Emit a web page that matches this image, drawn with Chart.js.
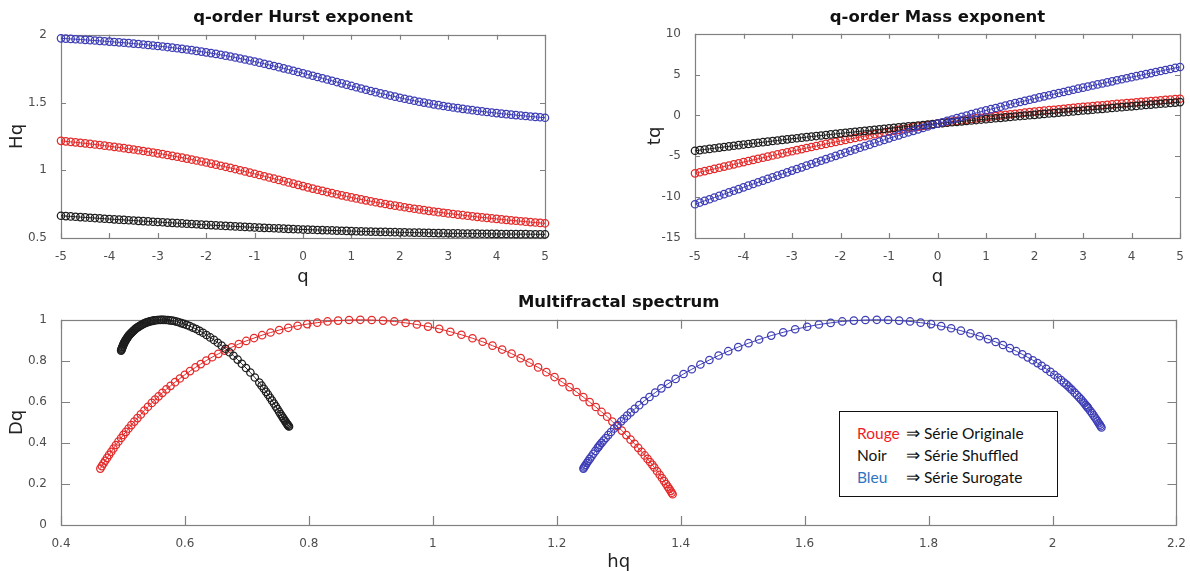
<!DOCTYPE html>
<html lang="fr">
<head>
<meta charset="utf-8">
<title>Spectre multifractal</title>
<script src="https://cdn.jsdelivr.net/npm/chart.js@4.4.1/dist/chart.umd.min.js"></script>
<style>
    html, body { margin: 0; padding: 0; background: #fff; width: 1190px; height: 571px; overflow: hidden; }
    canvas { position: absolute; }
    #cHurst { left: 0; top: 0; }
    #cMass { left: 600px; top: 0; }
    #cSpectre { left: 0; top: 290px; }
    #legende {
        position: absolute; left: 839px; top: 411px; width: 219px; height: 86px;
        box-sizing: border-box; border: 1.5px solid #111; background: #fff;
        font-family: Lato, "Open Sans", sans-serif; font-size: 15.5px; line-height: 22px;
        padding: 10px 0 0 17px; color: #111; z-index: 5;
    }
    #legende span.mot { display: inline-block; width: 49px; }
    #legende span.fl { font-size: 17px; margin-right: 4px; }
</style>
</head>
<body>
<canvas id="cHurst" width="595" height="290"></canvas>
<canvas id="cMass" width="590" height="290"></canvas>
<canvas id="cSpectre" width="1190" height="300"></canvas>
<div id="legende">
    <div><span class="mot" style="color:#ee1c24">Rouge</span><span class="fl">⇒</span>Série Originale</div>
    <div><span class="mot">Noir</span><span class="fl">⇒</span>Série Shuffled</div>
    <div><span class="mot" style="color:#2e74c0">Bleu</span><span class="fl">⇒</span>Série Surogate</div>
</div>
<script>
// ordre q
const q = [-5,-4.9,-4.8,-4.7,-4.6,-4.5,-4.4,-4.3,-4.2,-4.1,
    -4,-3.9,-3.8,-3.7,-3.6,-3.5,-3.4,-3.3,-3.2,-3.1,
    -3,-2.9,-2.8,-2.7,-2.6,-2.5,-2.4,-2.3,-2.2,-2.1,
    -2,-1.9,-1.8,-1.7,-1.6,-1.5,-1.4,-1.3,-1.2,-1.1,
    -1,-0.9,-0.8,-0.7,-0.6,-0.5,-0.4,-0.3,-0.2,-0.1,
    0,0.1,0.2,0.3,0.4,0.5,0.6,0.7,0.8,0.9,
    1,1.1,1.2,1.3,1.4,1.5,1.6,1.7,1.8,1.9,
    2,2.1,2.2,2.3,2.4,2.5,2.6,2.7,2.8,2.9,
    3,3.1,3.2,3.3,3.4,3.5,3.6,3.7,3.8,3.9,
    4,4.1,4.2,4.3,4.4,4.5,4.6,4.7,4.8,4.9,5];

// Hq (exposant de Hurst)
const hRouge = [1.217,1.2135,1.21,1.2063,1.2025,1.1986,1.1946,1.1905,1.1863,1.1819,
    1.1775,1.1729,1.1682,1.1633,1.1583,1.1531,1.1478,1.1423,1.1367,1.1309,
    1.125,1.1189,1.1127,1.1063,1.0997,1.093,1.0861,1.0791,1.0719,1.0645,
    1.057,1.0493,1.0415,1.0336,1.0255,1.0173,1.0089,1.0004,0.9917,0.9829,
    0.974,0.965,0.956,0.9469,0.9378,0.9288,0.9196,0.9105,0.9014,0.8922,
    0.883,0.8739,0.8649,0.8562,0.8476,0.8391,0.8309,0.8228,0.8148,0.8071,
    0.7995,0.7921,0.7848,0.7778,0.7709,0.7641,0.7576,0.7512,0.7449,0.7389,
    0.733,0.7273,0.7217,0.7162,0.7108,0.7056,0.7005,0.6956,0.6908,0.6861,
    0.6815,0.677,0.6727,0.6684,0.6642,0.6601,0.6561,0.6522,0.6484,0.6446,
    0.641,0.6374,0.6339,0.6305,0.6272,0.6239,0.6207,0.6175,0.6144,0.6114,0.6085];
const hNoir = [0.664,0.6616,0.6592,0.6568,0.6544,0.652,0.6496,0.6472,0.6448,0.6424,
    0.64,0.6378,0.6356,0.6334,0.6312,0.629,0.6268,0.6246,0.6224,0.6202,
    0.618,0.6159,0.6138,0.6117,0.6096,0.6075,0.6054,0.6033,0.6012,0.5991,
    0.597,0.5951,0.5932,0.5913,0.5894,0.5875,0.5856,0.5837,0.5818,0.5799,
    0.578,0.5765,0.575,0.5735,0.572,0.5705,0.569,0.5675,0.566,0.5645,
    0.563,0.5618,0.5606,0.5594,0.5582,0.557,0.5558,0.5546,0.5534,0.5522,
    0.551,0.5501,0.5492,0.5483,0.5474,0.5465,0.5456,0.5447,0.5438,0.5429,
    0.542,0.5413,0.5406,0.5399,0.5392,0.5385,0.5378,0.5371,0.5364,0.5357,
    0.535,0.5345,0.534,0.5335,0.533,0.5325,0.532,0.5315,0.531,0.5305,
    0.53,0.5297,0.5294,0.5291,0.5288,0.5285,0.5282,0.5279,0.5276,0.5273,0.527];
const hBleu = [1.974,1.9719,1.9697,1.9674,1.9651,1.9628,1.9603,1.9578,1.9553,1.9527,
    1.95,1.9472,1.9444,1.9414,1.9383,1.9351,1.9318,1.9284,1.9249,1.9212,
    1.9175,1.9136,1.9095,1.9053,1.9009,1.8963,1.8915,1.8865,1.8813,1.876,
    1.8705,1.8648,1.8588,1.8526,1.8462,1.8395,1.8326,1.8254,1.818,1.8104,
    1.8025,1.7944,1.7863,1.778,1.7695,1.761,1.7523,1.7436,1.7347,1.7256,
    1.7165,1.7073,1.698,1.6887,1.6794,1.67,1.6606,1.6511,1.6416,1.6321,
    1.6225,1.613,1.6037,1.5945,1.5855,1.5768,1.5681,1.5597,1.5515,1.5434,
    1.5355,1.5278,1.5204,1.5131,1.5061,1.4994,1.4928,1.4865,1.4805,1.4746,
    1.469,1.4636,1.4583,1.4532,1.4483,1.4435,1.4389,1.4344,1.4301,1.426,
    1.422,1.4182,1.4144,1.4108,1.4072,1.4038,1.4004,1.3972,1.394,1.391,1.388];

// tq (exposant de masse)
const tRouge = [-7.085,-6.946,-6.808,-6.67,-6.532,-6.394,-6.256,-6.119,-5.982,-5.846,
    -5.71,-5.574,-5.439,-5.304,-5.17,-5.036,-4.903,-4.77,-4.637,-4.506,
    -4.375,-4.245,-4.116,-3.987,-3.859,-3.733,-3.607,-3.482,-3.358,-3.235,
    -3.114,-2.994,-2.875,-2.757,-2.641,-2.526,-2.412,-2.301,-2.19,-2.081,
    -1.974,-1.869,-1.765,-1.663,-1.563,-1.464,-1.368,-1.273,-1.18,-1.089,
    -1,-0.913,-0.827,-0.743,-0.661,-0.58,-0.501,-0.424,-0.348,-0.274,
    -0.201,-0.129,-0.058,0.011,0.079,0.146,0.212,0.277,0.341,0.404,
    0.466,0.527,0.588,0.647,0.706,0.764,0.821,0.878,0.934,0.99,
    1.045,1.099,1.153,1.206,1.258,1.31,1.362,1.413,1.464,1.514,
    1.564,1.613,1.662,1.711,1.76,1.808,1.855,1.902,1.949,1.996,2.043];
const tNoir = [-4.32,-4.24,-4.16,-4.09,-4.01,-3.93,-3.86,-3.78,-3.71,-3.63,
    -3.56,-3.49,-3.42,-3.34,-3.27,-3.2,-3.13,-3.06,-2.99,-2.92,
    -2.85,-2.79,-2.72,-2.65,-2.58,-2.52,-2.45,-2.39,-2.32,-2.26,
    -2.19,-2.13,-2.07,-2.01,-1.94,-1.88,-1.82,-1.76,-1.7,-1.64,
    -1.58,-1.52,-1.46,-1.4,-1.34,-1.29,-1.23,-1.17,-1.11,-1.06,
    -1,-0.94,-0.89,-0.83,-0.78,-0.72,-0.67,-0.61,-0.56,-0.5,
    -0.45,-0.39,-0.34,-0.29,-0.23,-0.18,-0.13,-0.07,-0.02,0.03,
    0.08,0.14,0.19,0.24,0.29,0.35,0.4,0.45,0.5,0.55,
    0.61,0.66,0.71,0.76,0.81,0.86,0.92,0.97,1.02,1.07,
    1.12,1.17,1.22,1.28,1.33,1.38,1.43,1.48,1.53,1.58,1.64];
const tBleu = [-10.87,-10.66,-10.45,-10.25,-10.04,-9.83,-9.63,-9.42,-9.21,-9.01,
    -8.8,-8.59,-8.39,-8.18,-7.98,-7.77,-7.57,-7.36,-7.16,-6.96,
    -6.75,-6.55,-6.35,-6.14,-5.94,-5.74,-5.54,-5.34,-5.14,-4.94,
    -4.74,-4.54,-4.35,-4.15,-3.95,-3.76,-3.57,-3.37,-3.18,-2.99,
    -2.8,-2.61,-2.43,-2.24,-2.06,-1.88,-1.7,-1.52,-1.35,-1.17,
    -1,-0.83,-0.66,-0.49,-0.33,-0.17,0,0.16,0.31,0.47,
    0.62,0.77,0.92,1.07,1.22,1.37,1.51,1.65,1.79,1.93,
    2.07,2.21,2.34,2.48,2.61,2.75,2.88,3.01,3.15,3.28,
    3.41,3.54,3.67,3.8,3.92,4.05,4.18,4.31,4.43,4.56,
    4.69,4.81,4.94,5.07,5.19,5.32,5.44,5.57,5.69,5.82,5.94];

// spectre : hq (abscisse) et Dq (ordonnée)
const hqRouge = [1.387,1.3855,1.3838,1.3816,1.3791,1.3764,1.3732,1.3698,1.3661,1.3619,
    1.3575,1.3543,1.3506,1.3465,1.3419,1.3369,1.3314,1.3255,1.3191,1.3123,
    1.305,1.2975,1.2897,1.2813,1.2723,1.263,1.2531,1.2429,1.2321,1.2207,
    1.209,1.1964,1.1833,1.1699,1.1561,1.1418,1.1271,1.1119,1.0963,1.0804,
    1.064,1.0462,1.0283,1.0103,0.9923,0.9743,0.9561,0.9379,0.9197,0.9014,
    0.883,0.8649,0.8472,0.8301,0.8135,0.7973,0.7818,0.7667,0.7521,0.7381,
    0.7245,0.7115,0.6989,0.6869,0.6754,0.6643,0.6539,0.6439,0.6344,0.6255,
    0.617,0.6082,0.5998,0.5918,0.5841,0.5768,0.57,0.5636,0.5575,0.5518,
    0.5465,0.5403,0.5345,0.5288,0.5234,0.5183,0.5135,0.509,0.5048,0.5007,
    0.497,0.4927,0.4886,0.4847,0.4811,0.4776,0.4744,0.4713,0.4685,0.4659,0.4635];
const dqRouge = [0.15,0.157,0.166,0.176,0.187,0.2,0.214,0.229,0.245,0.262,
    0.28,0.293,0.307,0.322,0.339,0.357,0.376,0.396,0.416,0.438,
    0.46,0.482,0.504,0.528,0.551,0.575,0.599,0.623,0.648,0.672,
    0.696,0.721,0.745,0.768,0.791,0.813,0.835,0.855,0.874,0.893,
    0.91,0.927,0.942,0.956,0.967,0.977,0.985,0.992,0.996,0.999,
    1,0.999,0.996,0.992,0.986,0.979,0.971,0.961,0.95,0.938,
    0.925,0.911,0.897,0.882,0.866,0.85,0.834,0.818,0.801,0.784,
    0.768,0.75,0.732,0.714,0.696,0.678,0.661,0.644,0.627,0.611,
    0.595,0.576,0.558,0.539,0.521,0.504,0.487,0.47,0.454,0.439,
    0.424,0.407,0.39,0.373,0.357,0.342,0.327,0.313,0.3,0.287,0.275];
const hqNoir = [0.768,0.767,0.766,0.7647,0.7633,0.7618,0.7601,0.7583,0.7564,0.7542,
    0.752,0.7493,0.7466,0.7437,0.7406,0.7375,0.7342,0.7309,0.7274,0.7237,
    0.72,0.7128,0.7056,0.6986,0.6918,0.685,0.6784,0.6718,0.6654,0.6592,
    0.653,0.6468,0.6407,0.6348,0.6291,0.6235,0.6181,0.6128,0.6077,0.6028,
    0.598,0.5941,0.5902,0.5865,0.5828,0.5793,0.5758,0.5725,0.5692,0.5661,
    0.563,0.5603,0.5577,0.5552,0.5527,0.5502,0.5479,0.5456,0.5433,0.5411,
    0.539,0.5371,0.5353,0.5335,0.5317,0.53,0.5283,0.5267,0.5251,0.5235,
    0.522,0.5206,0.5193,0.5179,0.5166,0.5154,0.5141,0.5129,0.5118,0.5106,
    0.5095,0.5086,0.5078,0.5069,0.5061,0.5054,0.5046,0.5039,0.5033,0.5026,
    0.502,0.5014,0.5008,0.5003,0.4998,0.4992,0.4988,0.4983,0.4978,0.4974,0.497];
const dqNoir = [0.48,0.483,0.488,0.493,0.499,0.506,0.514,0.522,0.531,0.541,
    0.552,0.565,0.578,0.592,0.606,0.62,0.635,0.649,0.664,0.679,
    0.694,0.719,0.743,0.765,0.786,0.806,0.825,0.842,0.859,0.874,
    0.888,0.902,0.914,0.926,0.937,0.946,0.955,0.962,0.969,0.975,
    0.98,0.984,0.988,0.991,0.994,0.996,0.997,0.999,0.999,1,
    1,1,0.999,0.999,0.998,0.997,0.995,0.994,0.992,0.99,
    0.988,0.986,0.983,0.981,0.978,0.975,0.972,0.969,0.966,0.963,
    0.96,0.957,0.953,0.949,0.946,0.942,0.938,0.935,0.931,0.927,
    0.924,0.92,0.916,0.912,0.909,0.905,0.902,0.898,0.895,0.891,
    0.888,0.884,0.88,0.876,0.872,0.868,0.865,0.861,0.857,0.854,0.85];
const hqBleu = [2.079,2.0777,2.0763,2.0746,2.0727,2.0708,2.0685,2.0662,2.0637,2.0609,
    2.058,2.0568,2.0554,2.0535,2.0513,2.0489,2.046,2.0429,2.0395,2.0356,
    2.0315,2.029,2.026,2.0225,2.0184,2.0138,2.0086,2.0029,1.9966,1.9898,
    1.9825,1.9758,1.9682,1.96,1.9512,1.9415,1.9312,1.92,1.9082,1.8958,
    1.8825,1.8675,1.8522,1.8365,1.8204,1.804,1.7872,1.7701,1.7526,1.7347,
    1.7165,1.6981,1.6794,1.6607,1.642,1.623,1.604,1.5847,1.5654,1.5461,
    1.5265,1.5094,1.4928,1.4767,1.4612,1.4463,1.4318,1.4179,1.4046,1.3918,
    1.3795,1.3688,1.3589,1.3496,1.341,1.3331,1.3259,1.3194,1.3136,1.3084,
    1.304,1.2981,1.2925,1.2875,1.2831,1.279,1.2755,1.2723,1.2697,1.2677,
    1.266,1.2624,1.259,1.256,1.2532,1.2508,1.2486,1.2468,1.2452,1.244,1.243];
const dqBleu = [0.475,0.481,0.489,0.496,0.505,0.514,0.524,0.534,0.545,0.556,
    0.568,0.573,0.578,0.585,0.593,0.602,0.612,0.622,0.633,0.645,
    0.658,0.665,0.674,0.684,0.694,0.706,0.719,0.732,0.746,0.761,
    0.776,0.789,0.803,0.817,0.832,0.847,0.862,0.877,0.892,0.906,
    0.92,0.934,0.947,0.959,0.969,0.979,0.986,0.992,0.996,0.999,
    1,0.999,0.996,0.992,0.985,0.977,0.966,0.954,0.939,0.923,
    0.904,0.886,0.867,0.847,0.826,0.804,0.782,0.759,0.736,0.712,
    0.688,0.666,0.645,0.624,0.604,0.584,0.566,0.549,0.533,0.518,
    0.505,0.487,0.47,0.453,0.438,0.424,0.412,0.4,0.391,0.382,
    0.376,0.361,0.347,0.334,0.322,0.312,0.302,0.293,0.286,0.28,0.275];

// graduations
const qTicks = [-5, -4, -3, -2, -1, 0, 1, 2, 3, 4, 5];
const hTicks = [0.5, 1, 1.5, 2];
const tTicks = [-15, -10, -5, 0, 5, 10];
const hqTicks = [0.4, 0.6, 0.8, 1, 1.2, 1.4, 1.6, 1.8, 2, 2.2];
const dqTicks = [0, 0.2, 0.4, 0.6, 0.8, 1];

const ROUGE = '#e42a2a';
const NOIR = '#1e1e1e';
const BLEU = '#3d3db6';
const POLICE = 'DejaVu Sans';

// cadre type matlab : boite + graduations vers l'intérieur
const cadre = {
    id: 'cadre',
    beforeDatasetsDraw(chart, args, opts) {
        const ctx = chart.ctx;
        const a = chart.chartArea;
        const sx = chart.scales.x, sy = chart.scales.y;
        const len = opts.len || 5;
        ctx.save();
        ctx.strokeStyle = '#808080';
        ctx.lineWidth = 1.2;
        ctx.beginPath();
        sx.ticks.forEach(t => {
            const p = Math.round(sx.getPixelForValue(t.value)) + 0.5;
            ctx.moveTo(p, a.bottom); ctx.lineTo(p, a.bottom - len);
            ctx.moveTo(p, a.top); ctx.lineTo(p, a.top + len);
        });
        sy.ticks.forEach(t => {
            const p = Math.round(sy.getPixelForValue(t.value)) + 0.5;
            ctx.moveTo(a.left, p); ctx.lineTo(a.left + len, p);
            ctx.moveTo(a.right, p); ctx.lineTo(a.right - len, p);
        });
        ctx.stroke();
        ctx.strokeRect(Math.round(a.left) + 0.5, Math.round(a.top) + 0.5,
            Math.round(a.width), Math.round(a.height));
        ctx.restore();
    }
};

function points(xs, ys) {
    return xs.map((x, i) => ({ x: x, y: ys[i] }));
}

function serie(label, xs, ys, couleur) {
    return {
        label: label,
        data: points(xs, ys),
        showLine: true,
        borderColor: couleur,
        borderWidth: 1,
        pointStyle: 'circle',
        pointRadius: 3.7,
        pointHoverRadius: 3.7,
        pointBorderWidth: 1.25,
        pointBorderColor: couleur,
        pointBackgroundColor: 'rgba(0,0,0,0)',
        clip: false
    };
}

function axe(cfg) {
    return {
        type: 'linear',
        min: cfg.min,
        max: cfg.max,
        afterBuildTicks: s => { s.ticks = cfg.ticks.map(v => ({ value: v })); },
        afterFit: s => { if (cfg.largeur) s.width = cfg.largeur; if (cfg.hauteur) s.height = cfg.hauteur; },
        grid: { display: false },
        border: { display: false },
        ticks: {
            color: '#4d4d4d',
            font: { family: POLICE, size: 12 },
            padding: cfg.tickPad,
            autoSkip: false,
            maxRotation: 0,
            callback: v => String(v)
        },
        title: {
            display: true,
            text: cfg.titre,
            color: '#222',
            font: { family: POLICE, size: 18 },
            padding: cfg.titrePad
        }
    };
}

function options(titre, sx, sy, pad, titrePad, len) {
    return {
        responsive: false,
        animation: false,
        devicePixelRatio: 1,
        events: [],
        layout: { padding: pad },
        plugins: {
            legend: { display: false },
            tooltip: { enabled: false },
            title: {
                display: true,
                fullSize: false,
                text: titre,
                color: '#111',
                font: { family: POLICE, size: 16.5, weight: 'bold', lineHeight: 1.2 },
                padding: titrePad
            },
            cadre: { len: len }
        },
        scales: { x: sx, y: sy }
    };
}

document.addEventListener('DOMContentLoaded', function () {
    graphHurst();
    graphMasse();
    graphSpectre();
});

function graphHurst() {
    new Chart(document.getElementById('cHurst'), {
        type: 'scatter',
        data: {
            datasets: [
                serie('Bleu', q, hBleu, BLEU),
                serie('Noir', q, hNoir, NOIR),
                serie('Rouge', q, hRouge, ROUGE)
            ]
        },
        options: options('q-order Hurst exponent',
            axe({ min: -5, max: 5, ticks: qTicks, titre: 'q', hauteur: 52, tickPad: 4, titrePad: { top: 0, bottom: 2 } }),
            axe({ min: 0.5, max: 2, ticks: hTicks, titre: 'Hq', largeur: 61, tickPad: 6, titrePad: { top: 7, bottom: 0 } }),
            { left: 0, right: 50, top: 0, bottom: 0 },
            { top: 8, bottom: 7 }, 5),
        plugins: [cadre]
    });
}

function graphMasse() {
    new Chart(document.getElementById('cMass'), {
        type: 'scatter',
        data: {
            datasets: [
                serie('Bleu', q, tBleu, BLEU),
                serie('Noir', q, tNoir, NOIR),
                serie('Rouge', q, tRouge, ROUGE)
            ]
        },
        options: options('q-order Mass exponent',
            axe({ min: -5, max: 5, ticks: qTicks, titre: 'q', hauteur: 52, tickPad: 4, titrePad: { top: 0, bottom: 2 } }),
            axe({ min: -15, max: 10, ticks: tTicks, titre: 'tq', largeur: 55, tickPad: 6, titrePad: { top: 5, bottom: 0 } }),
            { left: 40, right: 10, top: 0, bottom: 0 },
            { top: 8, bottom: 6 }, 5),
        plugins: [cadre]
    });
}

function graphSpectre() {
    new Chart(document.getElementById('cSpectre'), {
        type: 'scatter',
        data: {
            datasets: [
                serie('Bleu', hqBleu, dqBleu, BLEU),
                serie('Noir', hqNoir, dqNoir, NOIR),
                serie('Rouge', hqRouge, dqRouge, ROUGE)
            ]
        },
        options: options('Multifractal spectrum',
            axe({ min: 0.4, max: 2.2, ticks: hqTicks, titre: 'hq', hauteur: 65, tickPad: 4, titrePad: { top: 0, bottom: 17 } }),
            axe({ min: 0, max: 1, ticks: dqTicks, titre: 'Dq', largeur: 61, tickPad: 6, titrePad: { top: 7, bottom: 0 } }),
            { left: 0, right: 10, top: 0, bottom: 0 },
            { top: 3, bottom: 7 }, 9),
        plugins: [cadre]
    });
}
</script>
</body>
</html>
